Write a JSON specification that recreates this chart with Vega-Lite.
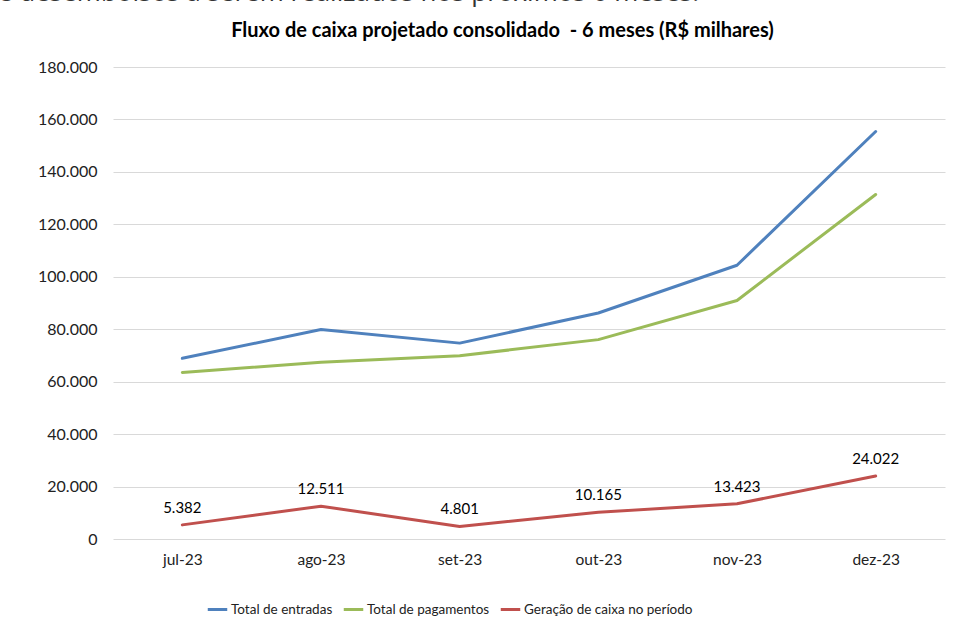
{
  "$schema": "https://vega.github.io/schema/vega-lite/v6.json",
  "width": 832,
  "height": 472,
  "autosize": {"type": "none"},
  "padding": {"left": 113, "top": 67, "right": 27, "bottom": 80},
  "background": "white",
  "title": {
    "text": "e desembolsos a serem realizados nos próximos 6 meses.",
    "anchor": "start",
    "frame": "group",
    "dx": -115,
    "offset": -7,
    "baseline": "alphabetic",
    "font": "Open Sans",
    "fontSize": 26,
    "fontWeight": "normal",
    "color": "#333333"
  },
  "config": {
    "font": "Lato",
    "view": {"stroke": null},
    "locale": {"number": {"decimal": ",", "thousands": ".", "grouping": [3], "currency": ["R$", ""]}}
  },
  "data": {
    "values": [
      {"mes": "jul-23", "serie": "Total de entradas", "valor": 68900},
      {"mes": "ago-23", "serie": "Total de entradas", "valor": 79900},
      {"mes": "set-23", "serie": "Total de entradas", "valor": 74700},
      {"mes": "out-23", "serie": "Total de entradas", "valor": 86200},
      {"mes": "nov-23", "serie": "Total de entradas", "valor": 104400},
      {"mes": "dez-23", "serie": "Total de entradas", "valor": 155400},
      {"mes": "jul-23", "serie": "Total de pagamentos", "valor": 63518},
      {"mes": "ago-23", "serie": "Total de pagamentos", "valor": 67389},
      {"mes": "set-23", "serie": "Total de pagamentos", "valor": 69899},
      {"mes": "out-23", "serie": "Total de pagamentos", "valor": 76035},
      {"mes": "nov-23", "serie": "Total de pagamentos", "valor": 90977},
      {"mes": "dez-23", "serie": "Total de pagamentos", "valor": 131378},
      {"mes": "jul-23", "serie": "Geração de caixa no período", "valor": 5382},
      {"mes": "ago-23", "serie": "Geração de caixa no período", "valor": 12511},
      {"mes": "set-23", "serie": "Geração de caixa no período", "valor": 4801},
      {"mes": "out-23", "serie": "Geração de caixa no período", "valor": 10165},
      {"mes": "nov-23", "serie": "Geração de caixa no período", "valor": 13423},
      {"mes": "dez-23", "serie": "Geração de caixa no período", "valor": 24022}
    ]
  },
  "encoding": {
    "x": {
      "field": "mes",
      "type": "ordinal",
      "sort": ["jul-23", "ago-23", "set-23", "out-23", "nov-23", "dez-23"],
      "scale": {"type": "point", "padding": 0.5},
      "axis": {
        "title": null,
        "domain": false,
        "ticks": false,
        "labelAngle": 0,
        "labelFontSize": 15.5,
        "labelColor": "#222222",
        "labelPadding": 13
      }
    },
    "y": {
      "field": "valor",
      "type": "quantitative",
      "scale": {"domain": [0, 180000], "nice": false},
      "axis": {
        "title": "Fluxo de caixa projetado consolidado\u00a0 - 6 meses (R$ milhares)",
        "titleAngle": 0,
        "titleAlign": "center",
        "titleBaseline": "alphabetic",
        "titleX": 389,
        "titleY": -31,
        "titleFontSize": 20,
        "titleFontWeight": "bold",
        "titleColor": "#000000",
        "values": [0, 20000, 40000, 60000, 80000, 100000, 120000, 140000, 160000, 180000],
        "format": ",.0f",
        "domain": false,
        "ticks": false,
        "grid": true,
        "gridColor": "#d9d9d9",
        "gridWidth": 1,
        "labelFontSize": 16,
        "labelColor": "#222222",
        "labelPadding": 16
      }
    }
  },
  "layer": [
    {
      "mark": {"type": "line", "strokeWidth": 3, "strokeCap": "round", "strokeJoin": "round"},
      "encoding": {
        "color": {
          "field": "serie",
          "type": "nominal",
          "scale": {
            "domain": ["Total de entradas", "Total de pagamentos", "Geração de caixa no período"],
            "range": ["#4F81BD", "#9BBB59", "#C0504D"]
          },
          "legend": {
            "title": null,
            "orient": "none",
            "legendX": 93,
            "legendY": 531,
            "direction": "horizontal",
            "symbolType": "stroke",
            "symbolSize": 380,
            "symbolStrokeWidth": 3,
            "labelFontSize": 13.5,
            "labelColor": "#222222",
            "labelOffset": 2,
            "labelLimit": 400,
            "columnPadding": 4
          }
        }
      }
    },
    {
      "transform": [{"filter": "datum.serie === 'Geração de caixa no período'"}],
      "mark": {"type": "text", "baseline": "bottom", "dy": -9, "fontSize": 15, "color": "#000000"},
      "encoding": {
        "text": {"field": "valor", "type": "quantitative", "format": ",.0f"}
      }
    }
  ]
}
